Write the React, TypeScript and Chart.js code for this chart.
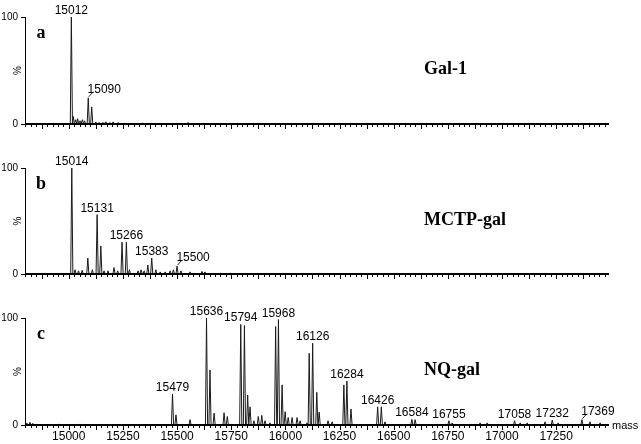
import React, { useEffect, useRef } from 'react';
import { Chart, registerables } from 'chart.js';

Chart.register(...registerables);

// ---- axis data ----
const massMin = 14798;
const massMax = 17494;
const xTickValues = [15000, 15250, 15500, 15750, 16000, 16250, 16500, 16750, 17000, 17250];
const yTickValues = [0, 100];

// ---- series: [mass, relative intensity %] ----
const galPeaks: [number, number][] = [
  [15012, 100], [15021, 7], [15032, 4], [15041, 5], [15052, 3], [15063, 4], [15073, 3],
  [15090, 24.5], [15106, 16], [15125, 2], [15140, 1.5], [15158, 1.5], [15172, 2],
  [15190, 1.5], [15205, 2], [15228, 1.5], [15300, 1], [15340, 1], [15551, 1.5], [16300, 0.8],
];
const galLabels = [15012, 15090];

const mctpPeaks: [number, number][] = [
  [15014, 100], [15029, 4], [15045, 3], [15062, 3.5], [15088, 15], [15109, 4],
  [15131, 56], [15148, 26.5], [15163, 3], [15181, 3], [15209, 6], [15226, 3],
  [15246, 30], [15266, 30], [15280, 4], [15320, 3], [15334, 4], [15348, 3],
  [15365, 8.5], [15383, 15], [15402, 4], [15422, 2], [15445, 2], [15468, 3],
  [15483, 4], [15500, 7.5], [15518, 3], [15560, 2], [15615, 2.5], [15629, 2],
  [15699, 1], [15745, 1],
];
const mctpLabels = [15014, 15131, 15266, 15383, 15500];

const nqPeaks: [number, number][] = [
  [14806, 2], [14821, 2.5], [14835, 1.5], [14955, 1], [15052, 1], [15145, 0.5],
  [15479, 29], [15495, 9.5], [15560, 5], [15636, 100], [15652, 51.5], [15671, 11],
  [15717, 11.5], [15732, 8], [15794, 94], [15811, 93], [15826, 28], [15837, 17],
  [15855, 4], [15875, 8], [15891, 9], [15906, 4], [15929, 2], [15955, 92],
  [15968, 98.5], [15985, 37.5], [15999, 12.5], [16013, 7], [16031, 7], [16054, 7],
  [16068, 4], [16100, 2], [16110, 67], [16126, 76.5], [16145, 30.5], [16156, 12],
  [16197, 4], [16216, 3], [16270, 37.5], [16284, 41], [16303, 15], [16426, 17],
  [16443, 17], [16460, 3], [16584, 5.3], [16599, 5], [16755, 4], [16770, 2],
  [16899, 2], [16932, 2], [17058, 4], [17084, 2], [17116, 2], [17199, 3],
  [17232, 4.5], [17259, 2], [17369, 5], [17406, 3], [17453, 2],
];
const nqLabels = [15479, 15636, 15794, 15968, 16126, 16284, 16426, 16584, 16755, 17058, 17232, 17369];

// peaks whose label sits to the right with a short leader line
const leaderLabelled = [15090, 15500, 17369];

// ---- styles ----
const HALF = 5;
const SANS = "'Liberation Sans', Arial, sans-serif";
const SERIF = "'Liberation Serif', 'Times New Roman', serif";

function profile(peaks: [number, number][]) {
  const pts: { x: number; y: number }[] = [{ x: massMin, y: 0 }];
  [...peaks].sort((a, b) => a[0] - b[0]).forEach(([m, h]) => {
    pts.push({ x: m - HALF, y: 0 }, { x: m, y: h }, { x: m + HALF, y: 0 });
  });
  pts.push({ x: massMax, y: 0 });
  return pts;
}

const decorPlugin = {
  id: 'decor',
  afterDraw(chart: any, _args: any, opts: any) {
    const { ctx, chartArea, scales } = chart;
    const xs = scales.x;
    const ys = scales.y;
    const y0 = ys.getPixelForValue(0);
    ctx.save();
    ctx.strokeStyle = '#000';
    // minor / major tick marks
    ctx.lineWidth = 1;
    for (let m = Math.ceil(massMin / 25) * 25; m <= massMax; m += 25) {
      const px = Math.round(xs.getPixelForValue(m)) + 0.5;
      const len = m % 125 === 0 ? 4 : 2;
      ctx.beginPath();
      ctx.moveTo(px, y0);
      ctx.lineTo(px, y0 + len + 1);
      ctx.stroke();
    }
    // baseline
    ctx.lineWidth = 2;
    ctx.beginPath();
    ctx.moveTo(chartArea.left, y0);
    ctx.lineTo(chartArea.right, y0);
    ctx.stroke();

    // peak labels
    ctx.fillStyle = '#000';
    ctx.font = `12px ${SANS}`;
    ctx.textBaseline = 'alphabetic';
    const peaks: [number, number][] = opts.peaks;
    (opts.labels as number[]).forEach((m) => {
      const pk = peaks.find((p) => p[0] === m);
      if (!pk) return;
      const px = xs.getPixelForValue(pk[0]);
      const py = ys.getPixelForValue(pk[1]);
      if (leaderLabelled.includes(m)) {
        ctx.lineWidth = 1;
        ctx.strokeStyle = '#333';
        ctx.beginPath();
        ctx.moveTo(px + 0.5, py - 1);
        ctx.lineTo(px + 5, py - 6);
        ctx.stroke();
        ctx.textAlign = 'center';
        ctx.fillText(String(m), px + 16, py - 5);
      } else {
        ctx.textAlign = 'center';
        ctx.fillText(String(m), px, py - 3);
      }
    });

    // panel letter and title
    ctx.font = `bold 18px ${SERIF}`;
    ctx.textAlign = 'center';
    ctx.textBaseline = 'middle';
    ctx.fillText(opts.letter, chartArea.left + 16, chartArea.top + 16);
    ctx.textAlign = 'left';
    ctx.fillText(opts.title, chartArea.left + 399, chartArea.top + 52);

    if (opts.showMass) {
      ctx.font = `11px ${SANS}`;
      ctx.textAlign = 'left';
      ctx.textBaseline = 'middle';
      ctx.fillText('mass', chartArea.right + 3, y0 + 1);
    }
    ctx.restore();
  },
};

type PanelProps = {
  peaks: [number, number][];
  labels: number[];
  letter: string;
  title: string;
  top: number;
  height: number;
  padTop: number;
  padBottom: number;
  showX: boolean;
};

function Panel(p: PanelProps) {
  const ref = useRef<HTMLCanvasElement | null>(null);
  useEffect(() => {
    if (!ref.current) return;
    const chart = new Chart(ref.current, {
      type: 'line',
      data: {
        datasets: [
          {
            data: profile(p.peaks),
            borderColor: '#1a1a1a',
            borderWidth: 1,
            pointRadius: 0,
            tension: 0,
            fill: false,
            clip: false as any,
          },
        ],
      },
      options: {
        animation: false,
        responsive: false,
        maintainAspectRatio: false,
        events: [],
        parsing: false as any,
        layout: { padding: { top: p.padTop, right: 32, bottom: p.padBottom, left: 0 } },
        plugins: {
          legend: { display: false },
          tooltip: { enabled: false },
          decor: {
            peaks: p.peaks,
            labels: p.labels,
            letter: p.letter,
            title: p.title,
            showMass: p.showX,
          },
        } as any,
        scales: {
          x: {
            type: 'linear',
            min: massMin,
            max: massMax,
            display: p.showX,
            afterBuildTicks: (s: any) => {
              s.ticks = xTickValues.map((v) => ({ value: v }));
            },
            afterFit: (s: any) => {
              s.height = p.showX ? 19 : 0;
            },
            grid: { display: false, drawTicks: false },
            border: { display: false },
            ticks: {
              callback: (v: any) => String(v),
              font: { family: SANS, size: 12 },
              color: '#000',
              padding: 4,
              maxRotation: 0,
              autoSkip: false,
            },
          },
          y: {
            type: 'linear',
            min: 0,
            max: 100,
            afterBuildTicks: (s: any) => {
              s.ticks = yTickValues.map((v) => ({ value: v }));
            },
            afterFit: (s: any) => {
              s.width = 25;
            },
            grid: { drawOnChartArea: false, tickLength: 4, color: '#000', tickColor: '#000' },
            border: { display: true, color: '#000', width: 1 },
            ticks: {
              callback: (v: any) => String(v),
              font: { family: SANS, size: 10 },
              color: '#000',
              padding: 3,
            },
            title: {
              display: true,
              text: '%',
              font: { family: SANS, size: 10 },
              color: '#000',
              padding: { top: 12, bottom: 0 },
            },
          },
        },
      } as any,
      plugins: [decorPlugin],
    });
    return () => chart.destroy();
  }, []);
  return (
    <div style={{ position: 'absolute', left: 0, top: p.top, width: 641, height: p.height }}>
      <canvas ref={ref} width={641} height={p.height} style={{ display: 'block' }} />
    </div>
  );
}

export default function App() {
  return (
    <div style={{ position: 'fixed', left: 0, top: 0, width: 641, height: 444, background: '#fff' }}>
      <Panel peaks={galPeaks} labels={galLabels} letter="a" title="Gal-1" top={0} height={140} padTop={17} padBottom={16} showX={false} />
      <Panel peaks={mctpPeaks} labels={mctpLabels} letter="b" title="MCTP-gal" top={140} height={150} padTop={28} padBottom={16} showX={false} />
      <Panel peaks={nqPeaks} labels={nqLabels} letter="c" title="NQ-gal" top={290} height={154} padTop={28} padBottom={0} showX={true} />
    </div>
  );
}
